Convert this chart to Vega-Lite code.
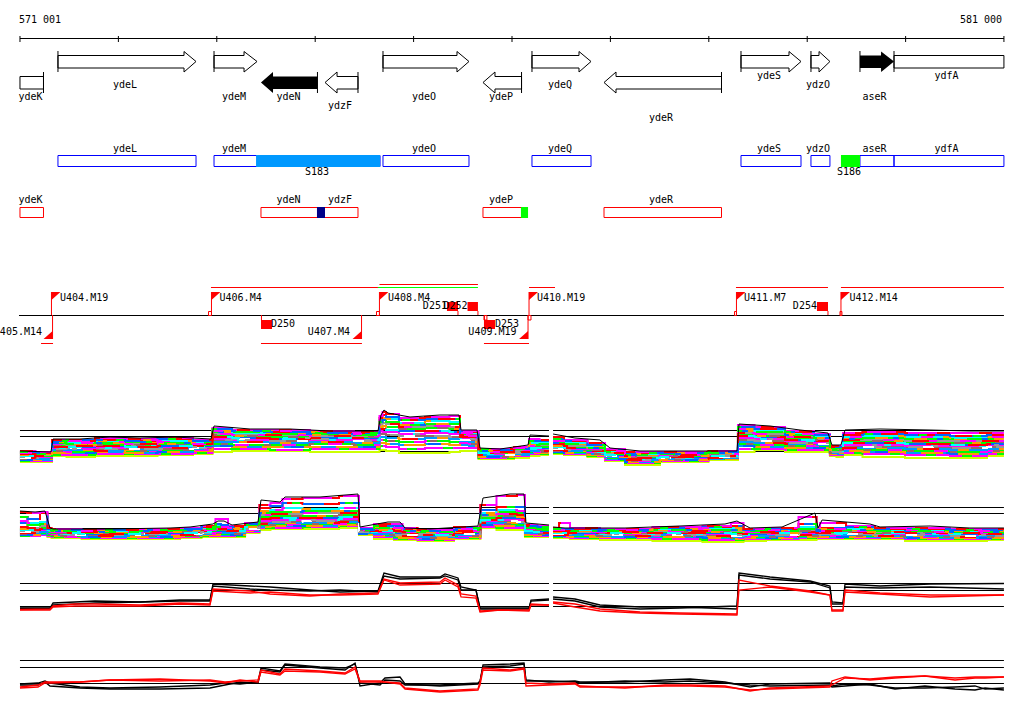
{"$schema":"https://vega.github.io/schema/vega-lite/v6.json","width":1024,"height":714,"padding":0,"autosize":{"type":"none"},"background":"white","config":{"view":{"stroke":null}},
"resolve":{"scale":{"stroke":"independent","strokeDash":"independent"}},
"datasets":{
"hb":[{"x":571001,"x2":581000,"y":38.5},{"x":570991,"x2":581000,"y":315.5},
{"x":571001,"x2":576377,"y":430.5},{"x":576418,"x2":581000,"y":430.5},{"x":571001,"x2":576377,"y":436.5},{"x":576418,"x2":581000,"y":436.5},{"x":571001,"x2":576377,"y":451.5},{"x":576418,"x2":581000,"y":451.5},
{"x":571001,"x2":576377,"y":507.5},{"x":576418,"x2":581000,"y":507.5},{"x":571001,"x2":576377,"y":513.5},{"x":576418,"x2":581000,"y":513.5},{"x":571001,"x2":576377,"y":528.5},{"x":576418,"x2":581000,"y":528.5},
{"x":571001,"x2":576377,"y":583.5},{"x":576418,"x2":581000,"y":583.5},{"x":571001,"x2":576377,"y":590.5},{"x":576418,"x2":581000,"y":590.5},{"x":571001,"x2":576377,"y":606.5},{"x":576418,"x2":581000,"y":606.5},
{"x":571001,"x2":581000,"y":660.5},{"x":571001,"x2":581000,"y":667.5},{"x":571001,"x2":581000,"y":683.5}],
"hr":[{"x":572942,"x2":574639,"y":287.5},{"x":574654,"x2":575655,"y":284.5},{"x":576174,"x2":576438,"y":287.5},{"x":578277,"x2":579212,"y":287.5},{"x":579344,"x2":581000,"y":287.5},{"x":571215,"x2":571337,"y":343.5},{"x":573450,"x2":574476,"y":343.5},{"x":575716,"x2":576174,"y":343.5}],
"hg":[{"x":574639,"x2":575655,"y":287.5}],
"vb":[{"x":571001,"y":36,"y2":42},{"x":572001,"y":36,"y2":42},{"x":573001,"y":36,"y2":42},{"x":574001,"y":36,"y2":42},{"x":575001,"y":36,"y2":42},{"x":576001,"y":36,"y2":42},{"x":577001,"y":36,"y2":42},{"x":578001,"y":36,"y2":42},{"x":579001,"y":36,"y2":42},{"x":580001,"y":36,"y2":42},{"x":581000,"y":36,"y2":42},
{"x":571387,"y":51,"y2":72},{"x":572973,"y":51,"y2":72},{"x":574690,"y":51,"y2":72},{"x":576204,"y":51,"y2":72},{"x":578328,"y":51,"y2":72},{"x":579039,"y":51,"y2":72},{"x":579537,"y":51,"y2":72},{"x":579883,"y":51,"y2":72},
{"x":571240,"y":72,"y2":93},{"x":574024,"y":72,"y2":93},{"x":574436,"y":72,"y2":93},{"x":576098,"y":72,"y2":93},{"x":578130,"y":72,"y2":93}],
"vr":[{"x":571321,"y":292,"y2":315},{"x":571332,"y":315,"y2":339},{"x":572947,"y":292,"y2":315},{"x":574472,"y":315,"y2":339},{"x":574654,"y":292,"y2":315},{"x":576164,"y":315,"y2":339},{"x":576174,"y":292,"y2":315},{"x":578282,"y":292,"y2":315},{"x":579344,"y":292,"y2":315},{"x":573455,"y":315,"y2":320},{"x":575452,"y":311,"y2":315},{"x":575655,"y":311,"y2":315},{"x":575722,"y":315,"y2":320},{"x":579212,"y":311,"y2":315}],
"genes":[
{"g":"ydeL","o":1,"x":571387,"y":55.5},{"g":"ydeL","o":2,"x":572668,"y":55.5},{"g":"ydeL","o":3,"x":572668,"y":51.5},{"g":"ydeL","o":4,"x":572790,"y":61.5},{"g":"ydeL","o":5,"x":572668,"y":72},{"g":"ydeL","o":6,"x":572668,"y":68},{"g":"ydeL","o":7,"x":571387,"y":68},
{"g":"ydeM","o":1,"x":572973,"y":55.5},{"g":"ydeM","o":2,"x":573278,"y":55.5},{"g":"ydeM","o":3,"x":573278,"y":51.5},{"g":"ydeM","o":4,"x":573410,"y":61.5},{"g":"ydeM","o":5,"x":573278,"y":72},{"g":"ydeM","o":6,"x":573278,"y":68},{"g":"ydeM","o":7,"x":572973,"y":68},
{"g":"ydeO","o":1,"x":574690,"y":55.5},{"g":"ydeO","o":2,"x":575442,"y":55.5},{"g":"ydeO","o":3,"x":575442,"y":51.5},{"g":"ydeO","o":4,"x":575564,"y":61.5},{"g":"ydeO","o":5,"x":575442,"y":72},{"g":"ydeO","o":6,"x":575442,"y":68},{"g":"ydeO","o":7,"x":574690,"y":68},
{"g":"ydeQ","o":1,"x":576204,"y":55.5},{"g":"ydeQ","o":2,"x":576682,"y":55.5},{"g":"ydeQ","o":3,"x":576682,"y":51.5},{"g":"ydeQ","o":4,"x":576804,"y":61.5},{"g":"ydeQ","o":5,"x":576682,"y":72},{"g":"ydeQ","o":6,"x":576682,"y":68},{"g":"ydeQ","o":7,"x":576204,"y":68},
{"g":"ydeS","o":1,"x":578328,"y":55.5},{"g":"ydeS","o":2,"x":578816,"y":55.5},{"g":"ydeS","o":3,"x":578816,"y":51.5},{"g":"ydeS","o":4,"x":578938,"y":61.5},{"g":"ydeS","o":5,"x":578816,"y":72},{"g":"ydeS","o":6,"x":578816,"y":68},{"g":"ydeS","o":7,"x":578328,"y":68},
{"g":"ydzO","o":1,"x":579039,"y":55.5},{"g":"ydzO","o":2,"x":579121,"y":55.5},{"g":"ydzO","o":3,"x":579121,"y":51.5},{"g":"ydzO","o":4,"x":579232,"y":61.5},{"g":"ydzO","o":5,"x":579121,"y":72},{"g":"ydzO","o":6,"x":579121,"y":68},{"g":"ydzO","o":7,"x":579039,"y":68},
{"g":"ydzF","o":1,"x":574436,"y":76.5},{"g":"ydzF","o":2,"x":574223,"y":76.5},{"g":"ydzF","o":3,"x":574223,"y":72},{"g":"ydzF","o":4,"x":574101,"y":82.5},{"g":"ydzF","o":5,"x":574223,"y":93},{"g":"ydzF","o":6,"x":574223,"y":89},{"g":"ydzF","o":7,"x":574436,"y":89},
{"g":"ydeP","o":1,"x":576098,"y":76.5},{"g":"ydeP","o":2,"x":575828,"y":76.5},{"g":"ydeP","o":3,"x":575828,"y":72},{"g":"ydeP","o":4,"x":575706,"y":82.5},{"g":"ydeP","o":5,"x":575828,"y":93},{"g":"ydeP","o":6,"x":575828,"y":89},{"g":"ydeP","o":7,"x":576098,"y":89},
{"g":"ydeR","o":1,"x":578130,"y":76.5},{"g":"ydeR","o":2,"x":577058,"y":76.5},{"g":"ydeR","o":3,"x":577058,"y":72},{"g":"ydeR","o":4,"x":576936,"y":82.5},{"g":"ydeR","o":5,"x":577058,"y":93},{"g":"ydeR","o":6,"x":577058,"y":89},{"g":"ydeR","o":7,"x":578130,"y":89}],
"solid":[{"g":"ydeN","x":573450,"y":82.5,"y2":82.5},{"g":"ydeN","x":573572,"y":72,"y2":93},{"g":"ydeN","x":573573,"y":76.5,"y2":89},{"g":"ydeN","x":574024,"y":76.5,"y2":89},{"g":"aseR","x":579537,"y":55.5,"y2":68},{"g":"aseR","x":579751,"y":55.5,"y2":68},{"g":"aseR","x":579752,"y":51.5,"y2":72},{"g":"aseR","x":579883,"y":61.5,"y2":61.5}],
"bbox":[{"x":571001,"x2":571240,"y":76.5,"y2":89},{"x":579883,"x2":581000,"y":55.5,"y2":68}],
"blue":[{"x":571387,"x2":572790,"y":155.5,"y2":166.5},{"x":572973,"x2":574660,"y":155.5,"y2":166.5},{"x":574690,"x2":575564,"y":155.5,"y2":166.5},{"x":576204,"x2":576804,"y":155.5,"y2":166.5},{"x":578328,"x2":578938,"y":155.5,"y2":166.5},{"x":579039,"x2":579232,"y":155.5,"y2":166.5},{"x":579537,"x2":579883,"y":155.5,"y2":166.5},{"x":579883,"x2":581000,"y":155.5,"y2":166.5}],
"redb":[{"x":571001,"x2":571240,"y":207.5,"y2":217.5},{"x":573450,"x2":574436,"y":207.5,"y2":217.5},{"x":575706,"x2":576098,"y":207.5,"y2":217.5},{"x":576936,"x2":578130,"y":207.5,"y2":217.5},
{"x":572917,"x2":572947,"y":311.5,"y2":315.5},{"x":574624,"x2":574654,"y":311.5,"y2":315.5},{"x":575716,"x2":575746,"y":315.5,"y2":320},{"x":576164,"x2":576194,"y":315.5,"y2":320},{"x":578262,"x2":578282,"y":311.5,"y2":315.5},{"x":579334,"x2":579354,"y":311.5,"y2":315.5}],
"patch":[{"k":"S183","x":573400,"x2":574660,"y":155,"y2":167},{"k":"S186","x":579344,"x2":579537,"y":155,"y2":167},{"k":"navy","x":574019,"x2":574101,"y":207,"y2":218},{"k":"S186","x":576092,"x2":576164,"y":207,"y2":218},
{"k":"D","x":573450,"x2":573562,"y":320,"y2":329},{"k":"D","x":575340,"x2":575452,"y":302,"y2":311},{"k":"D","x":575549,"x2":575655,"y":302,"y2":311},{"k":"D","x":575716,"x2":575828,"y":320,"y2":329},{"k":"D","x":579100,"x2":579212,"y":302,"y2":311}],
"flags":[{"g":"U404","x":571321,"y":292,"y2":300},{"g":"U404","x":571412,"y":292,"y2":292},{"g":"U406","x":572947,"y":292,"y2":300},{"g":"U406","x":573038,"y":292,"y2":292},{"g":"U408","x":574654,"y":292,"y2":300},{"g":"U408","x":574745,"y":292,"y2":292},{"g":"U410","x":576174,"y":292,"y2":300},{"g":"U410","x":576265,"y":292,"y2":292},{"g":"U411","x":578282,"y":292,"y2":300},{"g":"U411","x":578373,"y":292,"y2":292},{"g":"U412","x":579344,"y":292,"y2":300},{"g":"U412","x":579435,"y":292,"y2":292},
{"g":"U405","x":571241,"y":339,"y2":339},{"g":"U405","x":571332,"y":331,"y2":339},{"g":"U407","x":574381,"y":339,"y2":339},{"g":"U407","x":574472,"y":331,"y2":339},{"g":"U409","x":576073,"y":339,"y2":339},{"g":"U409","x":576164,"y":331,"y2":339}],
"bands":[
{"p":1,"g":"L","x":571001,"t":451,"a":451,"b":452,"c":453,"d":453,"e":454,"f":455,"h":456,"i":457,"j":458,"k":458,"l":459,"m":460,"n":461,"o":462},
{"p":1,"g":"L","x":571316,"t":452,"a":452,"b":453,"c":453,"d":454,"e":455,"f":456,"h":456,"i":457,"j":458,"k":459,"l":459,"m":460,"n":461,"o":462},
{"p":1,"g":"L","x":571337,"t":439,"a":440,"b":441,"c":442,"d":443,"e":444,"f":445,"h":447,"i":448,"j":449,"k":450,"l":451,"m":453,"n":455,"o":456},
{"p":1,"g":"L","x":571611,"t":439,"a":441,"b":440,"c":443,"d":444,"e":446,"f":445,"h":447,"i":449,"j":448,"k":450,"l":452,"m":453,"n":455,"o":457},
{"p":1,"g":"L","x":571916,"t":437,"a":438,"b":440,"c":441,"d":443,"e":442,"f":445,"h":446,"i":448,"j":449,"k":451,"l":450,"m":452,"n":454,"o":456},
{"p":1,"g":"L","x":572221,"t":438,"a":439,"b":441,"c":440,"d":442,"e":444,"f":445,"h":447,"i":446,"j":449,"k":450,"l":451,"m":453,"n":454,"o":456},
{"p":1,"g":"L","x":572576,"t":437,"a":438,"b":439,"c":441,"d":443,"e":442,"f":444,"h":446,"i":447,"j":449,"k":448,"l":450,"m":452,"n":454,"o":455},
{"p":1,"g":"L","x":572942,"t":439,"a":440,"b":441,"c":442,"d":443,"e":444,"f":445,"h":446,"i":447,"j":448,"k":449,"l":450,"m":451,"n":453,"o":454},
{"p":1,"g":"L","x":572973,"t":426,"a":428,"b":429,"c":431,"d":432,"e":434,"f":435,"h":437,"i":439,"j":440,"k":442,"l":444,"m":446,"n":449,"o":452},
{"p":1,"g":"L","x":573339,"t":429,"a":430,"b":431,"c":433,"d":432,"e":435,"f":436,"h":438,"i":440,"j":439,"k":442,"l":445,"m":447,"n":449,"o":451},
{"p":1,"g":"L","x":573745,"t":429,"a":430,"b":432,"c":431,"d":434,"e":435,"f":437,"h":439,"i":438,"j":441,"k":443,"l":445,"m":447,"n":450,"o":451},
{"p":1,"g":"L","x":574151,"t":431,"a":431,"b":433,"c":432,"d":434,"e":436,"f":435,"h":438,"i":440,"j":439,"k":442,"l":444,"m":447,"n":449,"o":452},
{"p":1,"g":"L","x":574639,"t":431,"a":432,"b":433,"c":434,"d":435,"e":436,"f":437,"h":438,"i":440,"j":441,"k":443,"l":445,"m":447,"n":449,"o":452},
{"p":1,"g":"L","x":574670,"t":415,"a":416,"b":418,"c":420,"d":422,"e":424,"f":427,"h":429,"i":431,"j":434,"k":437,"l":440,"m":443,"n":446,"o":450},
{"p":1,"g":"L","x":574700,"t":410,"a":412,"b":415,"c":418,"d":420,"e":423,"f":426,"h":429,"i":432,"j":434,"k":437,"l":440,"m":443,"n":446,"o":450},
{"p":1,"g":"L","x":574741,"t":413,"a":414,"b":417,"c":419,"d":422,"e":424,"f":427,"h":430,"i":432,"j":435,"k":438,"l":441,"m":444,"n":447,"o":451},
{"p":1,"g":"L","x":574964,"t":417,"a":418,"b":420,"c":423,"d":425,"e":427,"f":429,"h":431,"i":434,"j":436,"k":439,"l":442,"m":445,"n":449,"o":453},
{"p":1,"g":"L","x":575269,"t":415,"a":417,"b":419,"c":421,"d":424,"e":426,"f":428,"h":431,"i":433,"j":436,"k":438,"l":441,"m":444,"n":448,"o":453},
{"p":1,"g":"L","x":575462,"t":415,"a":416,"b":419,"c":422,"d":424,"e":427,"f":429,"h":432,"i":434,"j":437,"k":439,"l":442,"m":445,"n":448,"o":452},
{"p":1,"g":"L","x":575483,"t":430,"a":431,"b":432,"c":433,"d":434,"e":435,"f":436,"h":437,"i":438,"j":440,"k":441,"l":443,"m":445,"n":448,"o":451},
{"p":1,"g":"L","x":575645,"t":430,"a":431,"b":432,"c":433,"d":434,"e":436,"f":435,"h":437,"i":439,"j":440,"k":442,"l":444,"m":446,"n":448,"o":451},
{"p":1,"g":"L","x":575676,"t":448,"a":449,"b":449,"c":450,"d":451,"e":452,"f":452,"h":453,"i":454,"j":455,"k":455,"l":456,"m":457,"n":458,"o":459},
{"p":1,"g":"L","x":575879,"t":449,"a":449,"b":450,"c":451,"d":451,"e":452,"f":453,"h":453,"i":454,"j":455,"k":456,"l":457,"m":457,"n":458,"o":459},
{"p":1,"g":"L","x":576164,"t":445,"a":447,"b":448,"c":448,"d":449,"e":450,"f":451,"h":452,"i":452,"j":453,"k":454,"l":454,"m":455,"n":456,"o":458},
{"p":1,"g":"L","x":576184,"t":435,"a":439,"b":441,"c":443,"d":445,"e":446,"f":447,"h":448,"i":449,"j":450,"k":451,"l":452,"m":453,"n":454,"o":456},
{"p":1,"g":"L","x":576377,"t":436,"a":440,"b":441,"c":443,"d":444,"e":445,"f":447,"h":448,"i":449,"j":450,"k":451,"l":452,"m":453,"n":454,"o":455},
{"p":1,"g":"R","x":576418,"t":434,"a":437,"b":439,"c":441,"d":443,"e":444,"f":446,"h":447,"i":448,"j":449,"k":450,"l":451,"m":452,"n":453,"o":454},
{"p":1,"g":"R","x":576641,"t":438,"a":440,"b":441,"c":443,"d":444,"e":446,"f":447,"h":448,"i":449,"j":450,"k":451,"l":452,"m":453,"n":454,"o":455},
{"p":1,"g":"R","x":576895,"t":440,"a":443,"b":445,"c":446,"d":448,"e":449,"f":450,"h":451,"i":452,"j":453,"k":454,"l":454,"m":455,"n":456,"o":457},
{"p":1,"g":"R","x":576997,"t":448,"a":449,"b":450,"c":451,"d":452,"e":453,"f":454,"h":455,"i":456,"j":456,"k":457,"l":458,"m":459,"n":460,"o":461},
{"p":1,"g":"R","x":577302,"t":451,"a":452,"b":453,"c":454,"d":455,"e":456,"f":457,"h":458,"i":459,"j":460,"k":460,"l":461,"m":462,"n":463,"o":465},
{"p":1,"g":"R","x":577708,"t":451,"a":452,"b":453,"c":453,"d":454,"e":455,"f":456,"h":457,"i":458,"j":458,"k":459,"l":460,"m":460,"n":461,"o":462},
{"p":1,"g":"R","x":578287,"t":451,"a":451,"b":452,"c":453,"d":453,"e":454,"f":455,"h":456,"i":456,"j":457,"k":458,"l":458,"m":459,"n":459,"o":460},
{"p":1,"g":"R","x":578308,"t":424,"a":425,"b":427,"c":429,"d":431,"e":433,"f":434,"h":436,"i":438,"j":440,"k":442,"l":444,"m":446,"n":449,"o":452},
{"p":1,"g":"R","x":578623,"t":426,"a":427,"b":429,"c":431,"d":432,"e":434,"f":436,"h":437,"i":439,"j":441,"k":443,"l":445,"m":447,"n":449,"o":450},
{"p":1,"g":"R","x":578928,"t":430,"a":431,"b":432,"c":434,"d":435,"e":437,"f":438,"h":440,"i":441,"j":443,"k":444,"l":446,"m":448,"n":450,"o":452},
{"p":1,"g":"R","x":579212,"t":433,"a":434,"b":435,"c":436,"d":438,"e":439,"f":440,"h":441,"i":443,"j":444,"k":445,"l":447,"m":448,"n":450,"o":452},
{"p":1,"g":"R","x":579252,"t":445,"a":446,"b":447,"c":448,"d":449,"e":449,"f":450,"h":451,"i":452,"j":452,"k":453,"l":453,"m":454,"n":455,"o":456},
{"p":1,"g":"R","x":579344,"t":445,"a":446,"b":447,"c":447,"d":448,"e":449,"f":450,"h":450,"i":451,"j":452,"k":453,"l":453,"m":454,"n":455,"o":457},
{"p":1,"g":"R","x":579385,"t":430,"a":433,"b":435,"c":437,"d":439,"e":440,"f":442,"h":443,"i":445,"j":446,"k":448,"l":449,"m":451,"n":453,"o":455},
{"p":1,"g":"R","x":579741,"t":429,"a":432,"b":434,"c":436,"d":438,"e":440,"f":441,"h":443,"i":445,"j":447,"k":448,"l":450,"m":452,"n":454,"o":457},
{"p":1,"g":"R","x":580249,"t":430,"a":433,"b":435,"c":437,"d":439,"e":441,"f":442,"h":444,"i":446,"j":447,"k":449,"l":451,"m":453,"n":455,"o":458},
{"p":1,"g":"R","x":580655,"t":431,"a":433,"b":436,"c":438,"d":439,"e":441,"f":443,"h":445,"i":446,"j":448,"k":450,"l":452,"m":454,"n":456,"o":458},
{"p":1,"g":"R","x":581000,"t":431,"a":433,"b":435,"c":437,"d":439,"e":441,"f":442,"h":444,"i":445,"j":447,"k":449,"l":451,"m":452,"n":454,"o":456},
{"p":2,"g":"L","x":571001,"t":511,"a":512,"b":517,"c":521,"d":523,"e":527,"f":529,"h":530,"i":531,"j":532,"k":533,"l":534,"m":535,"n":536,"o":536},
{"p":2,"g":"L","x":571154,"t":512,"a":513,"b":519,"c":523,"d":525,"e":528,"f":529,"h":530,"i":531,"j":532,"k":533,"l":534,"m":535,"n":536,"o":536},
{"p":2,"g":"L","x":571255,"t":511,"a":512,"b":513,"c":522,"d":524,"e":526,"f":528,"h":529,"i":530,"j":531,"k":532,"l":533,"m":534,"n":535,"o":533},
{"p":2,"g":"L","x":571306,"t":528,"a":528,"b":529,"c":530,"d":530,"e":531,"f":532,"h":532,"i":533,"j":534,"k":534,"l":535,"m":535,"n":536,"o":537},
{"p":2,"g":"L","x":571337,"t":529,"a":529,"b":530,"c":531,"d":531,"e":532,"f":533,"h":533,"i":534,"j":535,"k":535,"l":536,"m":536,"n":537,"o":538},
{"p":2,"g":"L","x":571916,"t":529,"a":530,"b":530,"c":531,"d":532,"e":532,"f":533,"h":534,"i":534,"j":535,"k":536,"l":536,"m":537,"n":538,"o":539},
{"p":2,"g":"L","x":572526,"t":528,"a":529,"b":530,"c":530,"d":531,"e":532,"f":532,"h":533,"i":534,"j":534,"k":535,"l":536,"m":537,"n":538,"o":539},
{"p":2,"g":"L","x":572729,"t":527,"a":528,"b":529,"c":530,"d":530,"e":531,"f":532,"h":533,"i":533,"j":534,"k":535,"l":536,"m":536,"n":537,"o":538},
{"p":2,"g":"L","x":572962,"t":524,"a":526,"b":527,"c":528,"d":529,"e":530,"f":531,"h":531,"i":532,"j":533,"k":534,"l":534,"m":535,"n":536,"o":537},
{"p":2,"g":"L","x":573013,"t":521,"a":519,"b":524,"c":526,"d":527,"e":529,"f":530,"h":531,"i":532,"j":533,"k":533,"l":534,"m":535,"n":536,"o":537},
{"p":2,"g":"L","x":573074,"t":521,"a":519,"b":525,"c":527,"d":528,"e":529,"f":530,"h":531,"i":532,"j":532,"k":533,"l":534,"m":535,"n":536,"o":537},
{"p":2,"g":"L","x":573156,"t":525,"a":526,"b":527,"c":528,"d":529,"e":530,"f":530,"h":531,"i":532,"j":532,"k":533,"l":534,"m":535,"n":536,"o":537},
{"p":2,"g":"L","x":573420,"t":522,"a":523,"b":524,"c":525,"d":525,"e":526,"f":527,"h":527,"i":528,"j":529,"k":529,"l":530,"m":531,"n":532,"o":533},
{"p":2,"g":"L","x":573450,"t":500,"a":505,"b":508,"c":511,"d":513,"e":515,"f":517,"h":519,"i":521,"j":522,"k":524,"l":525,"m":527,"n":528,"o":530},
{"p":2,"g":"L","x":573643,"t":502,"a":503,"b":506,"c":510,"d":512,"e":514,"f":516,"h":518,"i":520,"j":522,"k":523,"l":525,"m":526,"n":528,"o":529},
{"p":2,"g":"L","x":573694,"t":497,"a":499,"b":503,"c":508,"d":512,"e":514,"f":516,"h":518,"i":520,"j":522,"k":523,"l":525,"m":526,"n":528,"o":529},
{"p":2,"g":"L","x":574050,"t":497,"a":498,"b":504,"c":509,"d":511,"e":513,"f":516,"h":518,"i":520,"j":521,"k":523,"l":524,"m":526,"n":527,"o":529},
{"p":2,"g":"L","x":574436,"t":494,"a":496,"b":503,"c":508,"d":511,"e":513,"f":515,"h":517,"i":519,"j":521,"k":522,"l":524,"m":525,"n":526,"o":528},
{"p":2,"g":"L","x":574456,"t":527,"a":528,"b":529,"c":529,"d":530,"e":530,"f":531,"h":531,"i":532,"j":532,"k":533,"l":533,"m":534,"n":534,"o":535},
{"p":2,"g":"L","x":574741,"t":522,"a":524,"b":526,"c":527,"d":528,"e":529,"f":530,"h":531,"i":532,"j":533,"k":534,"l":535,"m":536,"n":537,"o":539},
{"p":2,"g":"L","x":574863,"t":522,"a":524,"b":526,"c":528,"d":529,"e":531,"f":532,"h":533,"i":534,"j":535,"k":536,"l":537,"m":538,"n":539,"o":540},
{"p":2,"g":"L","x":574914,"t":528,"a":528,"b":529,"c":530,"d":531,"e":532,"f":533,"h":534,"i":534,"j":535,"k":536,"l":537,"m":538,"n":539,"o":540},
{"p":2,"g":"L","x":575168,"t":529,"a":530,"b":531,"c":531,"d":532,"e":533,"f":534,"h":535,"i":535,"j":536,"k":537,"l":538,"m":539,"n":540,"o":541},
{"p":2,"g":"L","x":575655,"t":526,"a":527,"b":528,"c":529,"d":530,"e":531,"f":532,"h":533,"i":534,"j":534,"k":535,"l":536,"m":537,"n":538,"o":539},
{"p":2,"g":"L","x":575706,"t":498,"a":505,"b":510,"c":513,"d":515,"e":516,"f":518,"h":520,"i":521,"j":522,"k":523,"l":524,"m":525,"n":527,"o":528},
{"p":2,"g":"L","x":575981,"t":494,"a":496,"b":507,"c":510,"d":512,"e":514,"f":516,"h":518,"i":520,"j":521,"k":523,"l":524,"m":526,"n":528,"o":530},
{"p":2,"g":"L","x":576123,"t":494,"a":495,"b":507,"c":511,"d":513,"e":515,"f":517,"h":518,"i":520,"j":522,"k":523,"l":525,"m":526,"n":528,"o":530},
{"p":2,"g":"L","x":576143,"t":523,"a":525,"b":526,"c":527,"d":528,"e":529,"f":530,"h":531,"i":532,"j":533,"k":533,"l":534,"m":535,"n":536,"o":537},
{"p":2,"g":"L","x":576377,"t":525,"a":526,"b":527,"c":528,"d":529,"e":529,"f":530,"h":531,"i":532,"j":533,"k":533,"l":534,"m":535,"n":536,"o":537},
{"p":2,"g":"R","x":576418,"t":527,"a":528,"b":529,"c":530,"d":530,"e":531,"f":532,"h":533,"i":533,"j":534,"k":535,"l":535,"m":536,"n":537,"o":538},
{"p":2,"g":"R","x":576540,"t":528,"a":523,"b":529,"c":530,"d":531,"e":531,"f":532,"h":533,"i":534,"j":534,"k":535,"l":536,"m":536,"n":537,"o":538},
{"p":2,"g":"R","x":576641,"t":528,"a":528,"b":529,"c":530,"d":531,"e":532,"f":532,"h":533,"i":534,"j":534,"k":535,"l":536,"m":537,"n":538,"o":539},
{"p":2,"g":"R","x":577149,"t":528,"a":529,"b":530,"c":530,"d":531,"e":532,"f":533,"h":533,"i":534,"j":535,"k":536,"l":536,"m":537,"n":538,"o":540},
{"p":2,"g":"R","x":577708,"t":526,"a":527,"b":528,"c":529,"d":530,"e":531,"f":532,"h":533,"i":534,"j":535,"k":535,"l":536,"m":537,"n":539,"o":541},
{"p":2,"g":"R","x":578165,"t":524,"a":526,"b":527,"c":528,"d":530,"e":531,"f":532,"h":533,"i":534,"j":535,"k":536,"l":537,"m":538,"n":540,"o":542},
{"p":2,"g":"R","x":578287,"t":521,"a":523,"b":526,"c":528,"d":530,"e":531,"f":532,"h":534,"i":535,"j":536,"k":537,"l":538,"m":539,"n":540,"o":542},
{"p":2,"g":"R","x":578420,"t":528,"a":529,"b":530,"c":530,"d":531,"e":532,"f":533,"h":534,"i":535,"j":535,"k":536,"l":537,"m":538,"n":539,"o":541},
{"p":2,"g":"R","x":578745,"t":527,"a":528,"b":529,"c":530,"d":531,"e":532,"f":533,"h":533,"i":534,"j":535,"k":536,"l":537,"m":538,"n":539,"o":540},
{"p":2,"g":"R","x":579080,"t":513,"a":517,"b":524,"c":527,"d":529,"e":530,"f":531,"h":532,"i":533,"j":534,"k":535,"l":536,"m":537,"n":538,"o":540},
{"p":2,"g":"R","x":579111,"t":528,"a":529,"b":530,"c":530,"d":531,"e":532,"f":532,"h":533,"i":534,"j":535,"k":535,"l":536,"m":537,"n":538,"o":539},
{"p":2,"g":"R","x":579152,"t":520,"a":523,"b":528,"c":529,"d":530,"e":531,"f":532,"h":533,"i":534,"j":534,"k":535,"l":536,"m":537,"n":538,"o":539},
{"p":2,"g":"R","x":579639,"t":524,"a":526,"b":527,"c":529,"d":530,"e":531,"f":532,"h":533,"i":534,"j":534,"k":535,"l":536,"m":537,"n":538,"o":539},
{"p":2,"g":"R","x":579741,"t":527,"a":528,"b":529,"c":530,"d":531,"e":532,"f":533,"h":533,"i":534,"j":535,"k":536,"l":536,"m":537,"n":538,"o":539},
{"p":2,"g":"R","x":580249,"t":526,"a":528,"b":529,"c":530,"d":531,"e":532,"f":532,"h":533,"i":534,"j":535,"k":536,"l":537,"m":538,"n":539,"o":541},
{"p":2,"g":"R","x":580655,"t":528,"a":529,"b":530,"c":531,"d":532,"e":533,"f":533,"h":534,"i":535,"j":536,"k":537,"l":537,"m":538,"n":539,"o":541},
{"p":2,"g":"R","x":581000,"t":528,"a":529,"b":530,"c":531,"d":532,"e":532,"f":533,"h":534,"i":535,"j":536,"k":536,"l":537,"m":538,"n":539,"o":540}],
"pairs":[
{"p":3,"g":"L","x":571001,"w":608,"v":608.5,"y1":609.5,"z":610},{"p":3,"g":"L","x":571306,"w":608,"v":608.5,"y1":609,"z":610},{"p":3,"g":"L","x":571337,"w":603,"v":605,"y1":606,"z":607},{"p":3,"g":"L","x":571560,"w":602,"v":604,"y1":604,"z":606},{"p":3,"g":"L","x":571763,"w":601,"v":603,"y1":604,"z":606},{"p":3,"g":"L","x":572221,"w":602,"v":602,"y1":605,"z":606},{"p":3,"g":"L","x":572627,"w":600,"v":601,"y1":603,"z":604},{"p":3,"g":"L","x":572932,"w":600,"v":601,"y1":604,"z":605},{"p":3,"g":"L","x":572962,"w":584,"v":586,"y1":589,"z":591},{"p":3,"g":"L","x":573339,"w":586,"v":589,"y1":591,"z":593},{"p":3,"g":"L","x":573542,"w":587,"v":590,"y1":594,"z":592},{"p":3,"g":"L","x":573948,"w":590,"v":591,"y1":596,"z":595},{"p":3,"g":"L","x":574253,"w":592,"v":590,"y1":594,"z":595},{"p":3,"g":"L","x":574639,"w":591,"v":592,"y1":593,"z":594},{"p":3,"g":"L","x":574700,"w":573,"v":576,"y1":579,"z":580},{"p":3,"g":"L","x":574863,"w":577,"v":579,"y1":583,"z":585},{"p":3,"g":"L","x":575269,"w":577,"v":578,"y1":582,"z":584},{"p":3,"g":"L","x":575320,"w":574,"v":576,"y1":578,"z":580},{"p":3,"g":"L","x":575452,"w":578,"v":580,"y1":585,"z":587},{"p":3,"g":"L","x":575483,"w":587,"v":590,"y1":594,"z":597},{"p":3,"g":"L","x":575635,"w":590,"v":590,"y1":596,"z":598},{"p":3,"g":"L","x":575676,"w":608,"v":609,"y1":611,"z":612},{"p":3,"g":"L","x":575879,"w":608,"v":609,"y1":610,"z":610},{"p":3,"g":"L","x":576174,"w":608,"v":609,"y1":610,"z":611},{"p":3,"g":"L","x":576194,"w":601,"v":600,"y1":604,"z":605},{"p":3,"g":"L","x":576377,"w":600,"v":599,"y1":605,"z":605},
{"p":3,"g":"R","x":576418,"w":597,"v":599,"y1":602,"z":603},{"p":3,"g":"R","x":576641,"w":599,"v":601,"y1":604,"z":607},{"p":3,"g":"R","x":576895,"w":605,"v":607,"y1":609,"z":611},{"p":3,"g":"R","x":577302,"w":607,"v":609,"y1":612,"z":613},{"p":3,"g":"R","x":577708,"w":607,"v":608,"y1":613,"z":614},{"p":3,"g":"R","x":578287,"w":609,"v":606,"y1":614,"z":615},{"p":3,"g":"R","x":578308,"w":573,"v":575,"y1":580,"z":590},{"p":3,"g":"R","x":578623,"w":577,"v":579,"y1":586,"z":587},{"p":3,"g":"R","x":579030,"w":581,"v":582,"y1":591,"z":592},{"p":3,"g":"R","x":579232,"w":586,"v":588,"y1":595,"z":595},{"p":3,"g":"R","x":579252,"w":602,"v":604,"y1":610,"z":611},{"p":3,"g":"R","x":579364,"w":603,"v":604,"y1":610,"z":611},{"p":3,"g":"R","x":579385,"w":584,"v":587,"y1":590,"z":592},{"p":3,"g":"R","x":579741,"w":586,"v":588,"y1":593,"z":594},{"p":3,"g":"R","x":580249,"w":584,"v":587,"y1":595,"z":597},{"p":3,"g":"R","x":581000,"w":583.5,"v":589,"y1":595,"z":595},
{"p":4,"g":"L","x":571001,"w":684,"v":685,"y1":687,"z":688},{"p":4,"g":"L","x":571184,"w":683,"v":685,"y1":685,"z":687},{"p":4,"g":"L","x":571255,"w":681,"v":682,"y1":682,"z":683},{"p":4,"g":"L","x":571306,"w":683,"v":686,"y1":682,"z":683},{"p":4,"g":"L","x":571611,"w":687,"v":688,"y1":682,"z":682},{"p":4,"g":"L","x":571916,"w":688,"v":689,"y1":680,"z":680},{"p":4,"g":"L","x":572424,"w":687,"v":689,"y1":681,"z":679},{"p":4,"g":"L","x":572932,"w":685,"v":688,"y1":680,"z":681},{"p":4,"g":"L","x":573084,"w":683,"v":685,"y1":682,"z":683},{"p":4,"g":"L","x":573237,"w":684,"v":682,"y1":681,"z":680},{"p":4,"g":"L","x":573420,"w":682,"v":683,"y1":680,"z":682},{"p":4,"g":"L","x":573450,"w":668,"v":670,"y1":670,"z":672},{"p":4,"g":"L","x":573643,"w":671,"v":672,"y1":674,"z":675},{"p":4,"g":"L","x":573694,"w":664,"v":665,"y1":669,"z":671},{"p":4,"g":"L","x":574050,"w":667,"v":668,"y1":671,"z":672},{"p":4,"g":"L","x":574304,"w":668,"v":670,"y1":673,"z":674},{"p":4,"g":"L","x":574406,"w":664,"v":663,"y1":667,"z":669},{"p":4,"g":"L","x":574456,"w":683,"v":686,"y1":681,"z":682},{"p":4,"g":"L","x":574660,"w":685,"v":683,"y1":681,"z":682},{"p":4,"g":"L","x":574710,"w":680,"v":678,"y1":682,"z":682},{"p":4,"g":"L","x":574863,"w":681,"v":677,"y1":683,"z":684},{"p":4,"g":"L","x":574914,"w":685,"v":684,"y1":688,"z":689},{"p":4,"g":"L","x":575269,"w":685,"v":686,"y1":691,"z":692},{"p":4,"g":"L","x":575655,"w":683,"v":684,"y1":689,"z":690},{"p":4,"g":"L","x":575676,"w":681,"v":682,"y1":682,"z":685},{"p":4,"g":"L","x":575706,"w":665,"v":667,"y1":668,"z":670},{"p":4,"g":"L","x":575981,"w":664,"v":666,"y1":670,"z":671},{"p":4,"g":"L","x":576123,"w":663,"v":664,"y1":668,"z":669},{"p":4,"g":"L","x":576143,"w":680,"v":681,"y1":683,"z":686},{"p":4,"g":"L","x":576377,"w":682,"v":681,"y1":684,"z":685},{"p":4,"g":"L","x":576641,"w":681,"v":682,"y1":683,"z":684},{"p":4,"g":"L","x":576692,"w":682,"v":683,"y1":686,"z":687},{"p":4,"g":"L","x":577149,"w":682,"v":681,"y1":688,"z":687},{"p":4,"g":"L","x":577556,"w":680,"v":682,"y1":685,"z":686},{"p":4,"g":"L","x":577810,"w":679,"v":681,"y1":685,"z":686},{"p":4,"g":"L","x":578165,"w":682,"v":683,"y1":686,"z":687},{"p":4,"g":"L","x":578420,"w":687,"v":685,"y1":691,"z":690},{"p":4,"g":"L","x":578623,"w":684,"v":686,"y1":688,"z":689},{"p":4,"g":"L","x":579232,"w":683,"v":685,"y1":686,"z":687},{"p":4,"g":"L","x":579252,"w":686,"v":687,"y1":685,"z":681},{"p":4,"g":"L","x":579385,"w":684,"v":686,"y1":678,"z":677},{"p":4,"g":"L","x":579639,"w":685,"v":684,"y1":679,"z":680},{"p":4,"g":"L","x":579893,"w":688,"v":689,"y1":677,"z":678},{"p":4,"g":"L","x":580197,"w":688,"v":686,"y1":676,"z":676},{"p":4,"g":"L","x":580503,"w":687,"v":689,"y1":678,"z":680},{"p":4,"g":"L","x":580706,"w":686,"v":690,"y1":677,"z":678},{"p":4,"g":"L","x":580808,"w":689,"v":688,"y1":677,"z":678},{"p":4,"g":"L","x":581000,"w":688,"v":690,"y1":677,"z":677}],
"tc":[{"t":"ydeL","x":572068,"y":85},{"t":"ydeK","x":571108,"y":97},{"t":"ydeM","x":573176,"y":97},{"t":"ydeN","x":573730,"y":97},{"t":"ydzF","x":574253,"y":106},{"t":"ydeO","x":575107,"y":97},{"t":"ydeP","x":575889,"y":97},{"t":"ydeQ","x":576489,"y":85},{"t":"ydeR","x":577515,"y":118},{"t":"ydeS","x":578613,"y":76},{"t":"ydzO","x":579111,"y":85},{"t":"aseR","x":579685,"y":97},{"t":"ydfA","x":580416,"y":76},
{"t":"ydeL","x":572068,"y":149},{"t":"ydeM","x":573176,"y":149},{"t":"ydeO","x":575107,"y":149},{"t":"ydeQ","x":576489,"y":149},{"t":"ydeS","x":578613,"y":149},{"t":"ydzO","x":579111,"y":149},{"t":"aseR","x":579685,"y":149},{"t":"ydfA","x":580416,"y":149},{"t":"S183","x":574019,"y":172},{"t":"S186","x":579426,"y":172},
{"t":"ydeK","x":571108,"y":200},{"t":"ydeN","x":573730,"y":200},{"t":"ydzF","x":574253,"y":200},{"t":"ydeP","x":575889,"y":200},{"t":"ydeR","x":577515,"y":200}],
"tl":[{"t":"571 001","x":570991,"y":20},{"t":"581 000","x":580553,"y":20},{"t":"U404.M19","x":571408,"y":298},{"t":"U406.M4","x":573029,"y":298},{"t":"U408.M4","x":574741,"y":298},{"t":"U410.M19","x":576255,"y":298},{"t":"U411.M7","x":578359,"y":298},{"t":"U412.M14","x":579431,"y":298},{"t":"D250","x":573552,"y":324},{"t":"D253","x":575828,"y":324}],
"tr":[{"t":"U405.M14","x":571225,"y":332},{"t":"U407.M4","x":574355,"y":332},{"t":"U409.M19","x":576047,"y":332},{"t":"D251","x":575340,"y":306},{"t":"D252","x":575549,"y":306},{"t":"D254","x":579100,"y":306}]
},
"encoding":{"x":{"field":"x","type":"quantitative","axis":null,"scale":{"domain":[570798,581204],"nice":false,"zero":false}},"y":{"field":"y","type":"quantitative","axis":null,"scale":{"domain":[714,0],"nice":false,"zero":false}}},
"layer":[
{"data":{"name":"hb"},"mark":{"type":"rule","color":"#000000","strokeWidth":1},"encoding":{"x2":{"field":"x2"}}},
{"data":{"name":"hr"},"mark":{"type":"rule","color":"#ff0000","strokeWidth":1},"encoding":{"x2":{"field":"x2"}}},
{"data":{"name":"hg"},"mark":{"type":"rule","color":"#00ff00","strokeWidth":1},"encoding":{"x2":{"field":"x2"}}},
{"data":{"name":"vb"},"mark":{"type":"rule","color":"#000000","strokeWidth":1},"encoding":{"y2":{"field":"y2"}}},
{"data":{"name":"vr"},"mark":{"type":"rule","color":"#ff0000","strokeWidth":1},"encoding":{"y2":{"field":"y2"}}},
{"data":{"name":"genes"},"mark":{"type":"line","color":"#000000","strokeWidth":1,"interpolate":"linear-closed"},"encoding":{"detail":{"field":"g"},"order":{"field":"o"}}},
{"data":{"name":"solid"},"mark":{"type":"area","color":"#000000"},"encoding":{"y2":{"field":"y2"},"detail":{"field":"g"}}},
{"data":{"name":"bbox"},"mark":{"type":"rect","fill":null,"stroke":"#000000","strokeWidth":1},"encoding":{"x2":{"field":"x2"},"y2":{"field":"y2"}}},
{"data":{"name":"blue"},"mark":{"type":"rect","fill":null,"stroke":"#0000ff","strokeWidth":1},"encoding":{"x2":{"field":"x2"},"y2":{"field":"y2"}}},
{"data":{"name":"redb"},"mark":{"type":"rect","fill":null,"stroke":"#ff0000","strokeWidth":1},"encoding":{"x2":{"field":"x2"},"y2":{"field":"y2"}}},
{"data":{"name":"patch"},"mark":{"type":"rect"},"encoding":{"x2":{"field":"x2"},"y2":{"field":"y2"},"color":{"field":"k","type":"nominal","legend":null,"scale":{"domain":["S183","S186","navy","D"],"range":["#0099ff","#00ff00","#000088","#ff0000"]}}}},
{"data":{"name":"flags"},"mark":{"type":"area","color":"#ff0000"},"encoding":{"y2":{"field":"y2"},"detail":{"field":"g"}}},
{"data":{"name":"bands"},"transform":[{"fold":["o","n","m","l","k","j","i","h","f","e","d","c","b","a"],"as":["s","y"]}],"mark":{"type":"line","strokeWidth":2,"interpolate":"step"},"encoding":{"detail":[{"field":"p"},{"field":"g"}],"stroke":{"field":"s","type":"nominal","legend":null,"scale":{"domain":["a","b","c","d","e","f","h","i","j","k","l","m","n","o"],"range":["#ff00ff","#ff0000","#00ffff","#ff9900","#999999","#00ff00","#0066ff","#ff00ff","#996666","#ff9900","#00ff00","#0099ff","#ff00ff","#ccff00"]}}}},
{"data":{"name":"bands"},"transform":[{"fold":["n","m","l","k","j","i","h","f","e","d","c","b","a"],"as":["s","y"]}],"mark":{"type":"line","strokeWidth":2,"interpolate":"step"},"encoding":{"detail":[{"field":"p"},{"field":"g"}],"stroke":{"field":"s","type":"nominal","legend":null,"scale":{"domain":["a","b","c","d","e","f","h","i","j","k","l","m","n"],"range":["#ff0000","#0066ff","#ff9900","#00ff00","#ff00ff","#996666","#ff0000","#00ffff","#999999","#0099ff","#ff00ff","#ff9900","#00ff00"]}},"strokeDash":{"field":"s","type":"nominal","legend":null,"scale":{"domain":["a","b","c","d","e","f","h","i","j","k","l","m","n"],"range":[[13,29],[21,17],[9,37],[27,13],[16,23],[11,31],[24,19],[7,41],[19,26],[31,11],[14,33],[22,15],[10,27]]}}}},
{"data":{"name":"bands"},"transform":[{"fold":["m","l","k","j","i","h","f","e","d","c","b"],"as":["s","y"]}],"mark":{"type":"line","strokeWidth":2,"interpolate":"step"},"encoding":{"detail":[{"field":"p"},{"field":"g"}],"stroke":{"field":"s","type":"nominal","legend":null,"scale":{"domain":["b","c","d","e","f","h","i","j","k","l","m"],"range":["#00ff00","#ff00ff","#0066ff","#ff0000","#ff9900","#00ffff","#999999","#ffffff","#ff0000","#996666","#0066ff"]}},"strokeDash":{"field":"s","type":"nominal","legend":null,"scale":{"domain":["b","c","d","e","f","h","i","j","k","l","m"],"range":[[8,47],[12,61],[6,39],[17,53],[9,71],[14,43],[5,57],[11,49],[16,67],[7,37],[13,59]]}}}},
{"data":{"name":"bands"},"transform":[{"fold":["t"],"as":["s","y"]}],"mark":{"type":"line","strokeWidth":1,"color":"#000000","interpolate":"linear"},"encoding":{"detail":[{"field":"p"},{"field":"g"}]}},
{"data":{"name":"pairs"},"transform":[{"fold":["w","v","y1","z"],"as":["s","y"]}],"mark":{"type":"line","strokeWidth":1.3,"interpolate":"linear"},"encoding":{"detail":[{"field":"p"},{"field":"g"},{"field":"s"}],"color":{"condition":{"test":"datum.s==='w'||datum.s==='v'","value":"#000000"},"value":"#ff0000"}}},
{"data":{"name":"tc"},"mark":{"type":"text","font":"DejaVu Sans Mono","fontSize":10,"align":"center","baseline":"middle","color":"#000000"},"encoding":{"text":{"field":"t"}}},
{"data":{"name":"tl"},"mark":{"type":"text","font":"DejaVu Sans Mono","fontSize":10,"align":"left","baseline":"middle","color":"#000000"},"encoding":{"text":{"field":"t"}}},
{"data":{"name":"tr"},"mark":{"type":"text","font":"DejaVu Sans Mono","fontSize":10,"align":"right","baseline":"middle","color":"#000000"},"encoding":{"text":{"field":"t"}}}
]}
